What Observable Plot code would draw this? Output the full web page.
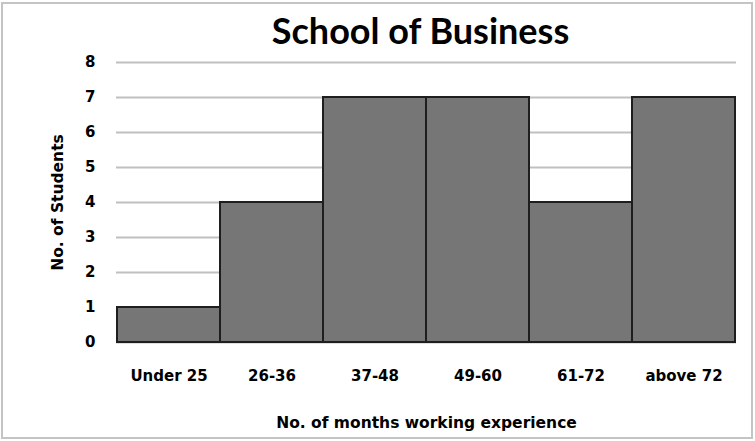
<!DOCTYPE html>
<html>
<head>
<meta charset="utf-8">
<script src="https://cdn.jsdelivr.net/npm/d3@7"></script>
<script src="https://cdn.jsdelivr.net/npm/@observablehq/plot@0.6"></script>
<style>
  html, body { margin: 0; padding: 0; background: #fff; }
  #wrap { position: relative; width: 755px; height: 441px; }
  #border { position: absolute; left: 1px; top: 2px; width: 752px; height: 437px; box-sizing: border-box; border: 2px solid #c4c4c4; pointer-events: none; }
  svg { display: block; }
</style>
</head>
<body>
<div id="wrap"><div id="border"></div></div>
<script>
const categories = ["Under 25", "26-36", "37-48", "49-60", "61-72", "above 72"];
const counts = [1, 4, 7, 7, 4, 7];
const yTicks = [0, 1, 2, 3, 4, 5, 6, 7, 8];
const title = "School of Business";
const xTitle = "No. of months working experience";
const yTitle = "No. of Students";

const data = categories.map((c, i) => ({category: c, count: counts[i]}));
const labelFont = "'DejaVu Sans', sans-serif";

const chart = Plot.plot({
  width: 755,
  height: 441,
  marginLeft: 116,
  marginRight: 19,
  marginTop: 62,
  marginBottom: 99,
  style: {fontFamily: labelFont, fontSize: "15px", fontWeight: "bold", color: "#000", background: "transparent"},
  x: {domain: categories, padding: 0},
  y: {domain: [0, 8]},
  marks: [
    Plot.gridY(yTicks, {stroke: "#c0c0c0", strokeOpacity: 1, strokeWidth: 2}),
    Plot.barY(data, {x: "category", y: "count", fill: "#767676", stroke: "#1e1e1e", strokeWidth: 2, inset: 0}),
    Plot.axisY(yTicks, {tickSize: 0, tickPadding: 21, fontSize: 15, fontWeight: "bold", label: null}),
    Plot.axisX({tickSize: 0, tickPadding: 28, fontSize: 15, fontWeight: "bold", label: null}),
    Plot.text([xTitle], {frameAnchor: "bottom", lineAnchor: "bottom", dy: 85, fontSize: 15.5, fontWeight: "bold", fill: "#000"}),
    Plot.text([yTitle], {frameAnchor: "left", textAnchor: "middle", lineAnchor: "middle", dx: -58, rotate: -90, fontSize: 15.5, fontWeight: "bold", fill: "#000"}),
    Plot.text([title], {frameAnchor: "top", lineAnchor: "top", dx: -6, dy: -44, fontSize: 36, fontWeight: "bold", fontFamily: "Lato, sans-serif", fill: "#000"})
  ]
});
document.getElementById("wrap").prepend(chart);
</script>
</body>
</html>
